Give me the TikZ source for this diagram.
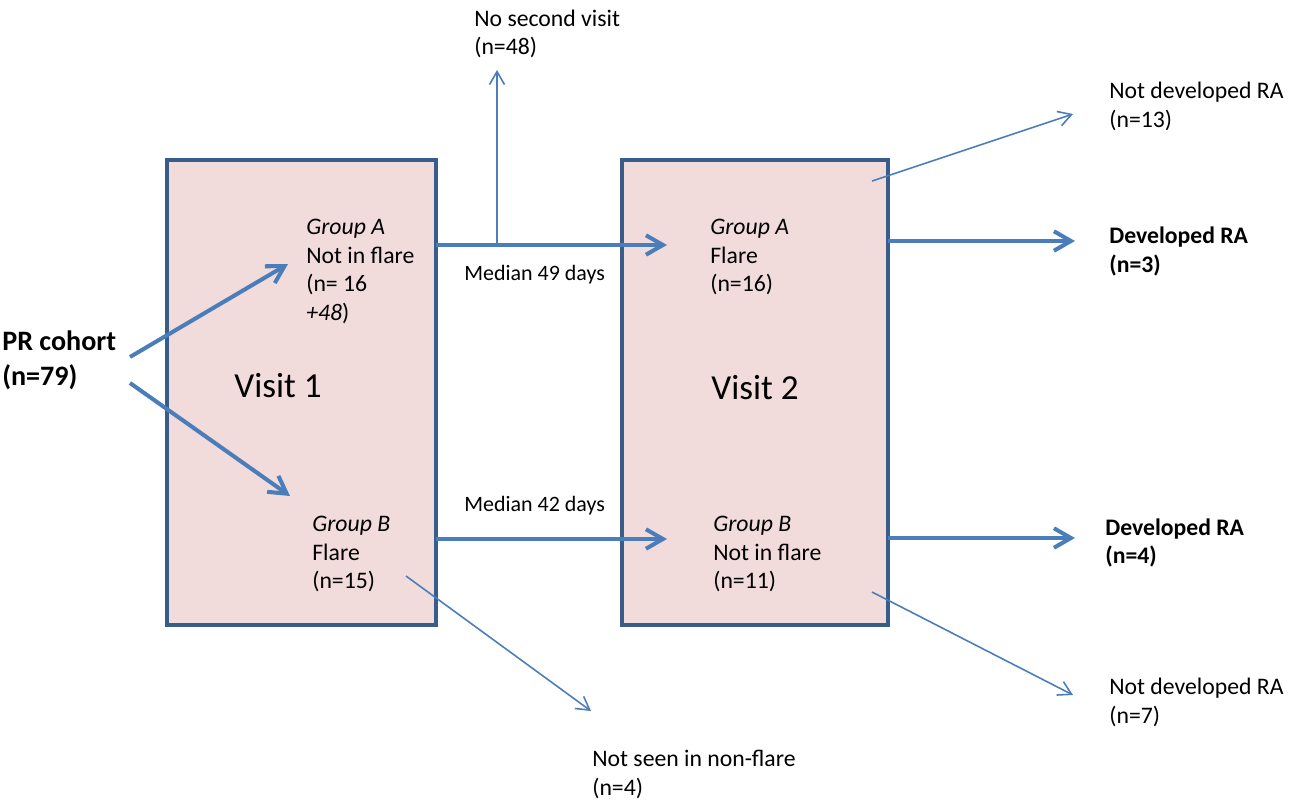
\documentclass[tikz,border=0pt]{standalone}
\usepackage{fontspec}
\setmainfont{Carlito}
\usetikzlibrary{arrows.meta}

\definecolor{boxfill}{HTML}{F2DCDB}
\definecolor{boxline}{HTML}{385D8A}
\definecolor{flowblue}{HTML}{4A7EBB}

\begin{document}
\begin{tikzpicture}[x=0.02cm, y=-0.02cm,
  every node/.style={inner sep=0pt, align=left, font=\fontsize{13.5}{16.4}\selectfont},
  visitbox/.style={draw=boxline, fill=boxfill, line width=2.2pt, outer sep=0pt,
    minimum height=9.3cm},
  bigflow/.style={draw=flowblue, line width=2.3pt,
    -{Straight Barb[length=3.4mm,width=3.9mm]}},
  thinflow/.style={draw=flowblue, line width=0.9pt,
    -{Straight Barb[length=2.6mm,width=3mm]}}]

  \path[fill=white, use as bounding box] (0,0) rectangle (1298,801);

  % the two visits
  \node[visitbox, minimum width=5.38cm] (v1) at (301.5,392.5) {};
  \node[visitbox, minimum width=5.32cm] (v2) at (755,392.5) {};
  \node[font=\fontsize{20}{24}\selectfont] (vis1) at (278,386) {Visit 1};
  \node[font=\fontsize{20}{24}\selectfont] (vis2) at (755,388) {Visit 2};

  % groups
  \node[anchor=west, font=\bfseries\fontsize{16}{19.8}\selectfont] (pr) at (2,360.5) {PR cohort\\(n=79)};
  \node[anchor=west] (ga1) at (306,271.5) {\textit{Group A}\\Not in flare\\(n= 16\\\textit{+48})};
  \node[anchor=west] (gb1) at (312,554) {\textit{Group B}\\Flare\\(n=15)};
  \node[anchor=west] (ga2) at (710,257) {\textit{Group A}\\Flare\\(n=16)};
  \node[anchor=west] (gb2) at (713,554) {\textit{Group B}\\Not in flare\\(n=11)};

  % outcomes
  \node[anchor=west] (nsv) at (474,34) {No second visit\\(n=48)};
  \node[anchor=west, font=\fontsize{12.5}{15}\selectfont] (med49) at (464,275) {Median 49 days};
  \node[anchor=west, font=\fontsize{12.5}{15}\selectfont] (med42) at (464,506) {Median 42 days};
  \node[anchor=west] (ndra13) at (1109,106.5) {Not developed RA\\(n=13)};
  \node[anchor=west, font=\bfseries\fontsize{13.5}{16.4}\selectfont] (dra3) at (1109,251.5) {Developed RA\\(n=3)};
  \node[anchor=west, font=\bfseries\fontsize{13.5}{16.4}\selectfont] (dra4) at (1105,543) {Developed RA\\(n=4)};
  \node[anchor=west] (ndra7) at (1109,702.5) {Not developed RA\\(n=7)};
  \node[anchor=west] (nsnf) at (592,774.5) {Not seen in non-flare\\(n=4)};

  % arrow ends
  \coordinate (pr-up) at (130,357);
  \coordinate (pr-dn) at (130,383);
  \coordinate (ga1-in) at (288,264);
  \coordinate (gb1-in) at (290,496);
  \coordinate (ga2-in) at (667,245);
  \coordinate (gb2-in) at (667,539);
  \coordinate (nsv-from) at (497,243);
  \coordinate (nsv-to) at (497,70);
  \coordinate (dra3-in) at (1075,241);
  \coordinate (dra4-in) at (1075,538);
  \coordinate (ndra13-from) at (872,181);
  \coordinate (ndra13-to) at (1073,114);
  \coordinate (ndra7-from) at (872,592);
  \coordinate (ndra7-to) at (1073,695);
  \coordinate (nsnf-from) at (406,576);
  \coordinate (nsnf-to) at (591,711);

  \draw[bigflow] (pr-up) -- (ga1-in);
  \draw[bigflow] (pr-dn) -- (gb1-in);
  \draw[bigflow] (v1.east |- ga2-in) -- (ga2-in);
  \draw[bigflow] (v1.east |- gb2-in) -- (gb2-in);
  \draw[bigflow] (v2.east |- dra3-in) -- (dra3-in);
  \draw[bigflow] (v2.east |- dra4-in) -- (dra4-in);
  \draw[thinflow] (nsv-from) -- (nsv-to);
  \draw[thinflow] (ndra13-from) -- (ndra13-to);
  \draw[thinflow] (ndra7-from) -- (ndra7-to);
  \draw[thinflow] (nsnf-from) -- (nsnf-to);
\end{tikzpicture}
\end{document}
